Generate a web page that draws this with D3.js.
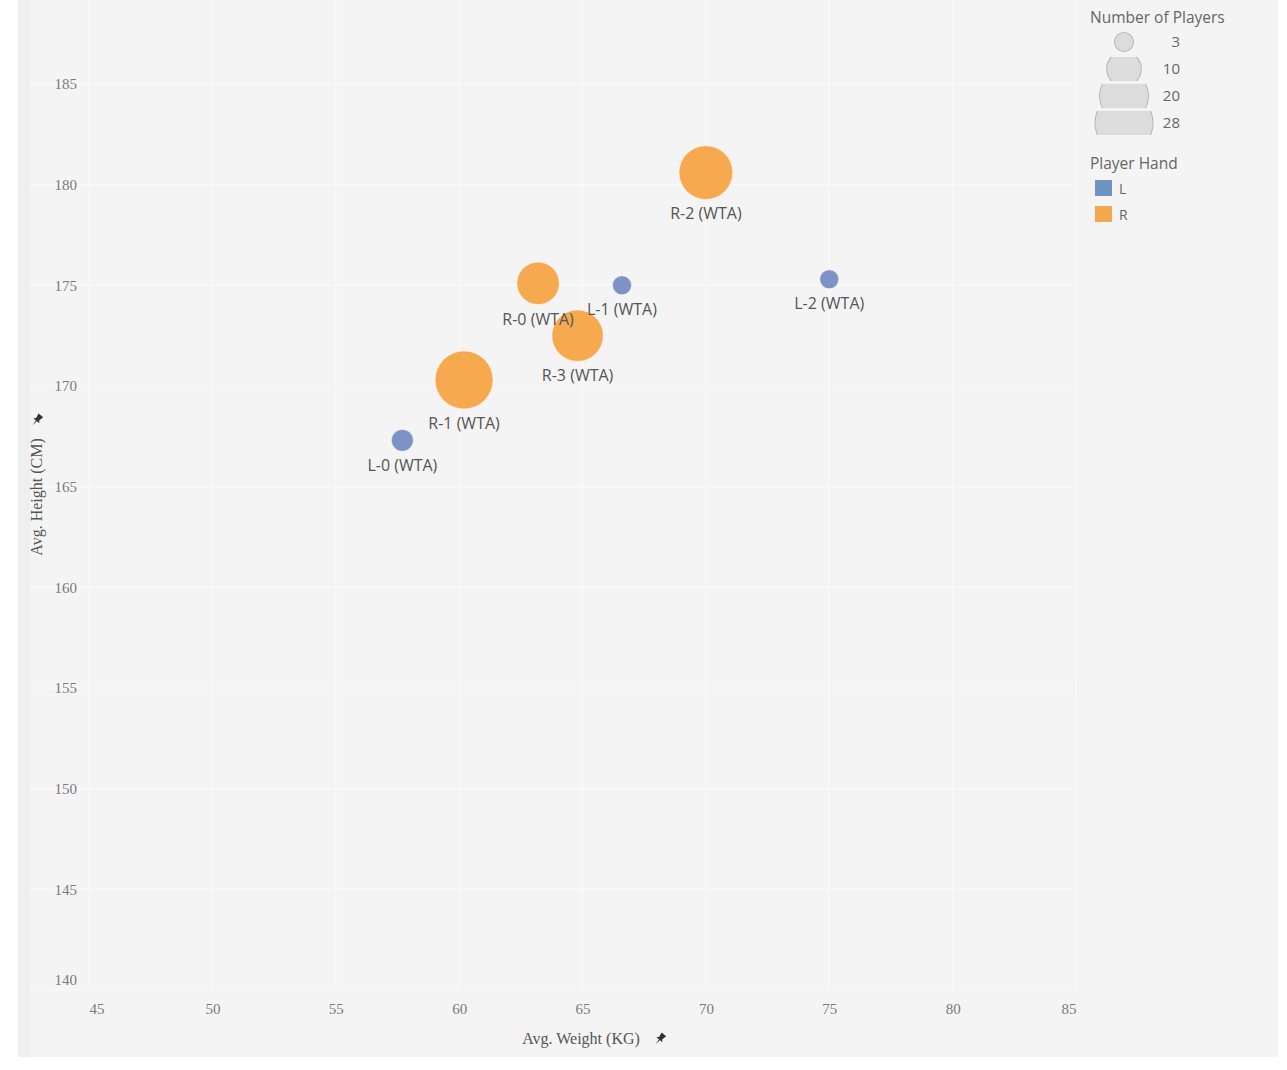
<!DOCTYPE html>
<html>
<head>
<meta charset="utf-8">
<script src="https://cdn.jsdelivr.net/npm/d3@7"></script>
<style>
  body { margin: 0; background: #fff; }
  svg { display: block; }
</style>
</head>
<body>
<svg width="1287" height="1070"></svg>
<script>
// data
const groups  = ["R-2 (WTA)", "L-2 (WTA)", "L-1 (WTA)", "R-0 (WTA)", "R-3 (WTA)", "R-1 (WTA)", "L-0 (WTA)"];
const hands   = ["R", "L", "L", "R", "R", "R", "L"];
const weights = [70.0, 75.0, 66.6, 63.2, 64.8, 60.2, 57.7];
const heights = [180.6, 175.3, 175.0, 175.1, 172.5, 170.3, 167.3];
const players = [24, 3, 3, 15, 22, 28, 4];

const xTicks = [45, 50, 55, 60, 65, 70, 75, 80, 85];
const yTicks = [140, 145, 150, 155, 160, 165, 170, 175, 180, 185];
const sizeLegend = [3, 10, 20, 28];
const handLegend = ["L", "R"];

const svg = d3.select("svg");

const x = d3.scaleLinear().domain([45, 85]).range([89, 1076]);
const y = d3.scaleLinear().domain([140, 185]).range([990, 84]);
const r = d3.scaleSqrt().domain([0, 28]).range([0, 29]);
const color = d3.scaleOrdinal().domain(["L", "R"]).range(["#7d93c6", "#f7a94f"]);
const legendColor = d3.scaleOrdinal().domain(["L", "R"]).range(["#6e92c3", "#f4a84d"]);

// background panel
svg.append("rect").attr("x", 18).attr("y", 0).attr("width", 1260).attr("height", 1057).attr("fill", "#f4f4f4");
svg.append("rect").attr("x", 18).attr("y", 0).attr("width", 12).attr("height", 1057).attr("fill", "#efefef");

// gridlines
svg.append("g").selectAll("line").data(xTicks).join("line")
  .attr("x1", d => x(d)).attr("x2", d => x(d))
  .attr("y1", 0).attr("y2", 990)
  .attr("stroke", "#f9f9f9").attr("stroke-width", 1.5);
svg.append("g").selectAll("line").data(yTicks).join("line")
  .attr("x1", 30).attr("x2", 1076)
  .attr("y1", d => y(d)).attr("y2", d => y(d))
  .attr("stroke", "#f9f9f9").attr("stroke-width", 1.5);

// axes
const xAxis = svg.append("g").attr("transform", "translate(0,1000)")
  .call(d3.axisBottom(x).tickValues(xTicks).tickSize(0).tickFormat(d3.format("d")));
xAxis.select(".domain").remove();
xAxis.selectAll("text")
  .attr("font-family", "Liberation Serif, serif").attr("font-size", 15).attr("fill", "#7a7a7a")
  .attr("text-anchor", (d, i) => i === 0 ? "start" : i === xTicks.length - 1 ? "end" : "middle");

const yAxis = svg.append("g").attr("transform", "translate(80,0)")
  .call(d3.axisLeft(y).tickValues(yTicks).tickSize(0).tickFormat(d3.format("d")));
yAxis.select(".domain").remove();
yAxis.selectAll("text")
  .attr("font-family", "Liberation Serif, serif").attr("font-size", 15).attr("fill", "#7a7a7a")
  .attr("dy", d => d === 140 ? "-0.4em" : "0.32em");

// axis titles
svg.append("text").attr("x", 581).attr("y", 1044).attr("text-anchor", "middle")
  .attr("font-family", "Liberation Serif, serif").attr("font-size", 16).attr("fill", "#555")
  .text("Avg. Weight (KG)");
svg.append("text").attr("transform", "translate(42,497) rotate(-90)").attr("text-anchor", "middle")
  .attr("font-family", "Liberation Serif, serif").attr("font-size", 16).attr("fill", "#555")
  .text("Avg. Height (CM)");

// pin icons
function pin(px, py, rot) {
  svg.append("path")
    .attr("transform", `translate(${px},${py}) rotate(${rot})`)
    .attr("d", "M-3,-6 L3,-6 L2,-1 L4,1 L-4,1 L-2,-1 Z M-0.6,1 L0.6,1 L0,7 Z")
    .attr("fill", "#333");
}
pin(660, 1039, 40);
pin(37, 420, 40);

// bubbles, largest first
const idx = d3.range(groups.length).sort((a, b) => players[b] - players[a]);
svg.append("g").selectAll("circle").data(idx).join("circle")
  .attr("cx", i => x(weights[i])).attr("cy", i => y(heights[i]))
  .attr("r", i => r(players[i]))
  .attr("fill", i => color(hands[i]))
  .attr("stroke", "#fff").attr("stroke-opacity", 0.5).attr("stroke-width", 1);

// mark labels
svg.append("g").selectAll("text").data(d3.range(groups.length)).join("text")
  .attr("x", i => x(weights[i]))
  .attr("y", i => y(heights[i]) + r(players[i]) + 20)
  .attr("text-anchor", "middle")
  .attr("font-family", "Open Sans, sans-serif").attr("font-size", 16).attr("fill", "#555")
  .text(i => groups[i]);

// size legend
svg.append("text").attr("x", 1090).attr("y", 23)
  .attr("font-family", "Open Sans, sans-serif").attr("font-size", 15.5).attr("fill", "#666")
  .text("Number of Players");

const defs = svg.append("defs");
const sizeRows = svg.append("g");
sizeLegend.forEach((v, i) => {
  const cy = 42 + i * 27;
  defs.append("clipPath").attr("id", "row" + i)
    .append("rect").attr("x", 1080).attr("y", cy - 12).attr("width", 90).attr("height", 24);
  sizeRows.append("circle")
    .attr("clip-path", `url(#row${i})`)
    .attr("cx", 1124).attr("cy", cy).attr("r", r(v))
    .attr("fill", "#dcdcdc").attr("stroke", "#bdbdbd").attr("stroke-width", 1.2);
  sizeRows.append("text").attr("x", 1180).attr("y", cy + 5).attr("text-anchor", "end")
    .attr("font-family", "Open Sans, sans-serif").attr("font-size", 15).attr("fill", "#666")
    .text(v);
});

// color legend
svg.append("text").attr("x", 1090).attr("y", 169)
  .attr("font-family", "Open Sans, sans-serif").attr("font-size", 15.5).attr("fill", "#666")
  .text("Player Hand");
handLegend.forEach((h, i) => {
  svg.append("rect").attr("x", 1095).attr("y", 180 + i * 26).attr("width", 17).attr("height", 16)
    .attr("fill", legendColor(h));
  svg.append("text").attr("x", 1119).attr("y", 194 + i * 26)
    .attr("font-family", "Open Sans, sans-serif").attr("font-size", 14).attr("fill", "#666")
    .text(h);
});
</script>
</body>
</html>
